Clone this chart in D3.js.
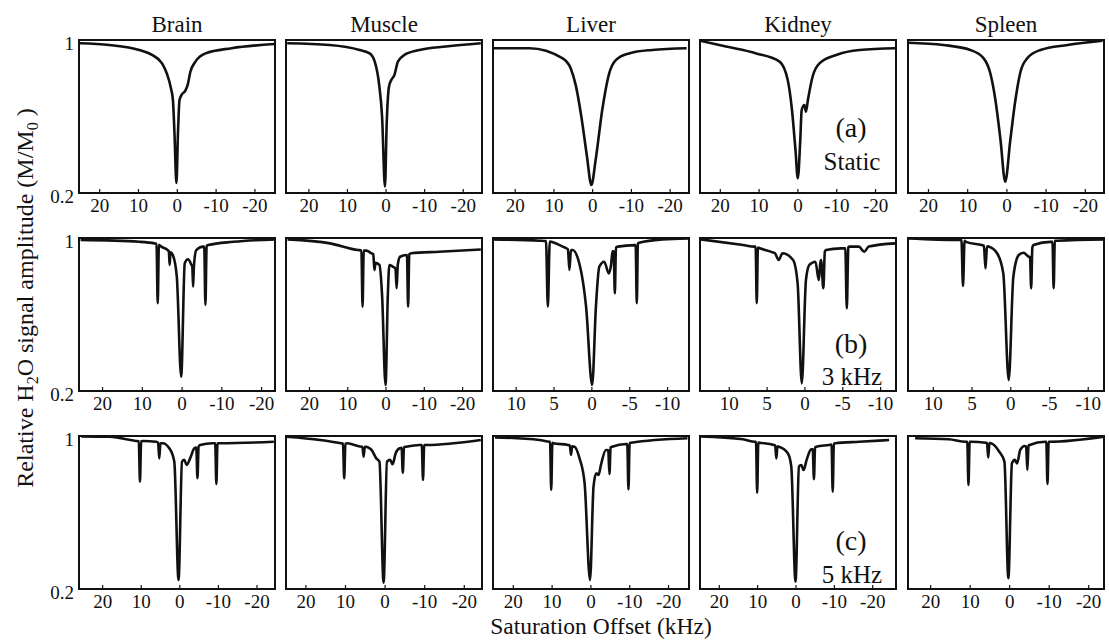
<!DOCTYPE html>
<html>
<head>
<meta charset="utf-8">
<script src="https://cdn.jsdelivr.net/npm/d3@7"></script>
<style>
  body { margin: 0; background: #fff; }
  svg text { font-family: "Liberation Serif", "Times New Roman", serif; fill: #111; }
</style>
</head>
<body>
<div id="chart"></div>
<script>
// ---- data: [offset kHz, M/M0] ----
var organs = ["Brain", "Muscle", "Liver", "Kidney", "Spleen"];
var rowTags = ["(a)", "(b)", "(c)"];
var rowNames = ["Static", "3 kHz", "5 kHz"];

var wideTicks = [20, 10, 0, -10, -20];
var narrowTicks = [10, 5, 0, -5, -10];
var yTicks = [1, 0.2];

// x domains (left edge, right edge) for each panel
var xDomains = [
  [[25.2, -25.3], [25.8, -25], [25.6, -25], [25.1, -25.4], [25.1, -24.9]],
  [[25.8, -23.5], [26, -25.2], [13, -12.9], [13.8, -12.1], [13.2, -12.1]],
  [[26, -24.8], [24.9, -24.6], [25.1, -25.4], [24.9, -26.2], [25.6, -24]]
];
var xTickSets = [
  [wideTicks, wideTicks, wideTicks, wideTicks, wideTicks],
  [wideTicks, wideTicks, narrowTicks, narrowTicks, narrowTicks],
  [wideTicks, wideTicks, wideTicks, wideTicks, wideTicks]
];

var brainStatic = [[25,0.983],[17.4,0.974],[9.7,0.948],[6.4,0.922],[3.8,0.878],[2.6,0.826],[1.5,0.747],[1.0,0.686],[0.6,0.514],[0.1,0.252],[-0.3,0.514],[-0.7,0.686],[-1.2,0.712],[-2.2,0.735],[-2.8,0.765],[-3.5,0.834],[-4.8,0.887],[-7.4,0.93],[-14.1,0.957],[-25.1,0.979]];
var muscleStatic = [[25.5,0.983],[14.5,0.974],[6.7,0.948],[4.1,0.93],[2.8,0.887],[1.7,0.774],[0.9,0.599],[0.15,0.233],[-0.3,0.564],[-0.9,0.757],[-1.5,0.791],[-2.3,0.817],[-3.2,0.887],[-4.9,0.922],[-8.8,0.948],[-15.7,0.966],[-24.7,0.983]];
var liverStatic = [[25.6,0.957],[16.2,0.957],[7.6,0.904],[5.5,0.85],[4.2,0.76],[2.8,0.6],[1.4,0.4],[0.2,0.242],[-0.9,0.373],[-2.6,0.634],[-4.4,0.826],[-6.1,0.895],[-9.5,0.93],[-15.5,0.948],[-24.4,0.957]];
var kidneyStatic = [[25.1,0.996],[18.4,0.966],[10.6,0.93],[4.6,0.887],[2.5,0.791],[1.4,0.634],[0.5,0.425],[-0.1,0.277],[-0.7,0.46],[-1.1,0.634],[-1.8,0.66],[-2.2,0.625],[-2.7,0.686],[-3.9,0.808],[-5.7,0.878],[-10,0.922],[-16,0.948],[-25.3,0.957]];
var spleenStatic = [[25,0.986],[16.1,0.974],[9.2,0.948],[5.8,0.904],[4.1,0.826],[2.8,0.686],[1.5,0.477],[0.3,0.259],[-1.0,0.477],[-2.3,0.686],[-3.6,0.834],[-5.3,0.904],[-8.7,0.948],[-15.6,0.974],[-24.5,0.996]];

var brain3k = [[25.4,0.99],[10.6,0.98],[6.8,0.972],[6.3,0.97],[6.0,0.659],[5.7,0.965],[5.1,0.955],[3.5,0.937],[3.2,0.93],[3.0,0.859],[2.8,0.925],[2.2,0.911],[1.2,0.798],[0.1,0.275],[-0.8,0.868],[-1.6,0.889],[-2.5,0.859],[-2.7,0.85],[-2.9,0.745],[-3.1,0.85],[-3.7,0.937],[-5.4,0.955],[-5.7,0.955],[-6.0,0.65],[-6.3,0.958],[-6.7,0.963],[-13,0.98],[-24,0.993]];
var muscle3k = [[25.6,0.993],[14.5,0.972],[7.2,0.937],[6.3,0.935],[6.0,0.641],[5.7,0.934],[5.0,0.934],[3.7,0.92],[3.2,0.915],[2.9,0.833],[2.6,0.87],[1.6,0.859],[0.9,0.7],[0.0,0.231],[-0.6,0.7],[-1.0,0.859],[-1.9,0.85],[-2.6,0.84],[-2.9,0.737],[-3.2,0.86],[-3.8,0.902],[-5.4,0.911],[-5.6,0.91],[-5.9,0.641],[-6.2,0.915],[-6.7,0.92],[-14,0.928],[-24.9,0.94]];
var liver3k = [[13,0.993],[6.8,0.986],[6.0,0.984],[5.75,0.641],[5.5,0.982],[5.3,0.98],[3.8,0.955],[3.1,0.94],[2.9,0.833],[2.7,0.937],[2.5,0.937],[1.6,0.868],[0.7,0.641],[-0.1,0.231],[-0.6,0.641],[-1.05,0.85],[-1.7,0.876],[-2.3,0.815],[-2.6,0.859],[-2.8,0.93],[-2.95,0.93],[-3.1,0.711],[-3.25,0.95],[-3.5,0.955],[-5.7,0.963],[-5.85,0.963],[-6.0,0.659],[-6.15,0.97],[-6.3,0.975],[-9.4,0.993],[-12.8,0.998]];
var kidney3k = [[13.7,0.993],[8.1,0.963],[6.6,0.955],[6.45,0.955],[6.3,0.659],[6.15,0.95],[5.9,0.946],[4.2,0.925],[3.9,0.92],[3.4,0.885],[2.9,0.92],[1.5,0.885],[0.9,0.763],[0.35,0.24],[-0.2,0.78],[-0.65,0.859],[-1.45,0.876],[-1.9,0.78],[-2.1,0.87],[-2.2,0.885],[-2.5,0.737],[-2.7,0.93],[-2.85,0.937],[-4.8,0.946],[-5.4,0.946],[-5.6,0.632],[-5.8,0.95],[-5.9,0.955],[-7.2,0.955],[-7.9,0.928],[-8.5,0.955],[-12,0.972]];
var spleen3k = [[13.1,0.998],[6.7,0.99],[6.3,0.99],[6.1,0.749],[5.9,0.985],[5.7,0.98],[3.7,0.963],[3.4,0.96],[3.2,0.841],[3.0,0.957],[2.8,0.955],[1.7,0.92],[0.9,0.815],[0.2,0.257],[-0.4,0.798],[-1.1,0.911],[-1.7,0.923],[-2.4,0.902],[-2.55,0.9],[-2.7,0.737],[-2.85,0.95],[-3.0,0.963],[-5.2,0.98],[-5.45,0.98],[-5.6,0.737],[-5.75,0.985],[-6.1,0.986],[-12.3,0.993]];

var brain5k = [[25.4,0.998],[18.1,0.996],[11.2,0.974],[10.5,0.972],[10.2,0.761],[9.9,0.972],[9.3,0.974],[6.0,0.97],[5.5,0.965],[5.2,0.883],[4.9,0.962],[4.3,0.962],[2.6,0.936],[1.3,0.866],[0.2,0.247],[-0.7,0.866],[-1.3,0.875],[-1.9,0.848],[-2.8,0.883],[-3.9,0.936],[-4.4,0.94],[-4.7,0.779],[-5.0,0.945],[-5.4,0.953],[-8.6,0.962],[-9.3,0.962],[-9.6,0.749],[-9.9,0.962],[-10.5,0.962],[-24.5,0.97]];
var muscle5k = [[24.9,0.996],[16.3,0.979],[11,0.962],[10.5,0.96],[10.2,0.779],[9.9,0.96],[9.4,0.962],[5.8,0.944],[5.6,0.944],[5.3,0.892],[5.0,0.944],[4.8,0.944],[3.3,0.927],[2.1,0.883],[1.3,0.866],[0.25,0.233],[-0.6,0.866],[-1.4,0.875],[-2.0,0.852],[-2.8,0.91],[-3.8,0.936],[-4.3,0.938],[-4.6,0.808],[-4.9,0.942],[-5.4,0.944],[-8.9,0.953],[-9.4,0.953],[-9.7,0.77],[-10.0,0.953],[-10.5,0.953],[-24.3,0.979]];
var liver5k = [[24.6,0.993],[13.1,0.979],[10.5,0.97],[10.4,0.97],[10.1,0.718],[9.8,0.965],[9.5,0.962],[5.8,0.953],[5.3,0.95],[5.0,0.901],[4.7,0.946],[4.1,0.944],[2.8,0.883],[1.5,0.753],[0.1,0.247],[-0.8,0.735],[-1.5,0.805],[-2.1,0.796],[-2.7,0.848],[-4.0,0.927],[-4.6,0.925],[-4.9,0.801],[-5.2,0.94],[-5.6,0.944],[-9.2,0.958],[-9.5,0.958],[-9.8,0.721],[-10.1,0.963],[-10.5,0.965],[-25,0.988]];
var kidney5k = [[24.8,0.998],[13.7,0.983],[10.6,0.97],[10.3,0.97],[10.0,0.703],[9.7,0.966],[9.4,0.965],[5.7,0.953],[5.3,0.95],[5.0,0.883],[4.7,0.946],[4.3,0.944],[2.0,0.91],[1.1,0.84],[0.0,0.238],[-0.9,0.84],[-1.5,0.848],[-2.1,0.822],[-2.9,0.875],[-4.1,0.93],[-4.5,0.93],[-4.8,0.774],[-5.1,0.94],[-5.4,0.944],[-8.8,0.953],[-9.4,0.955],[-9.7,0.709],[-10.0,0.96],[-10.4,0.962],[-16.6,0.97],[-24.4,0.979]];
var spleen5k = [[23.8,0.988],[15.3,0.983],[11.0,0.97],[10.6,0.97],[10.3,0.744],[10.0,0.97],[9.7,0.97],[5.9,0.965],[5.6,0.964],[5.3,0.888],[5.0,0.963],[4.6,0.962],[2.5,0.918],[1.2,0.866],[0.2,0.256],[-0.7,0.857],[-1.4,0.875],[-2.0,0.857],[-2.8,0.927],[-3.9,0.948],[-4.3,0.945],[-4.6,0.822],[-4.9,0.95],[-5.2,0.953],[-9.1,0.97],[-9.4,0.97],[-9.7,0.749],[-10.0,0.97],[-10.3,0.97],[-24.4,0.998]];

var curves = [
  [brainStatic, muscleStatic, liverStatic, kidneyStatic, spleenStatic],
  [brain3k, muscle3k, liver3k, kidney3k, spleen3k],
  [brain5k, muscle5k, liver5k, kidney5k, spleen5k]
];

// ---- layout ----
var W = 1109, H = 642;
var colLeft = [79, 286, 493, 700, 908],
    rowTop = [40, 238, 436],
    pw = 196, ph = 153;

var svg = d3.select("#chart").append("svg")
  .attr("width", W).attr("height", H);

var y = d3.scaleLinear().domain([0.2, 1]).range([ph, 0]);

rowTop.forEach(function(top, r) {
  colLeft.forEach(function(left, c) {
    var x = d3.scaleLinear().domain(xDomains[r][c]).range([0, pw]);
    var g = svg.append("g").attr("transform", "translate(" + left + "," + top + ")");

    var clipId = "clip" + r + c;
    g.append("clipPath").attr("id", clipId)
      .append("rect").attr("width", pw).attr("height", ph);

    var line = d3.line()
      .x(function(d) { return x(d[0]); })
      .y(function(d) { return y(d[1]); })
      .curve(d3.curveMonotoneX);

    g.append("path")
      .datum(curves[r][c])
      .attr("clip-path", "url(#" + clipId + ")")
      .attr("d", line)
      .attr("fill", "none")
      .attr("stroke", "#111")
      .attr("stroke-width", 2.6)
      .attr("stroke-linejoin", "round");

    // bottom axis, inward ticks
    var xa = g.append("g").attr("transform", "translate(0," + ph + ")")
      .call(d3.axisBottom(x).tickValues(xTickSets[r][c]).tickSize(-4).tickPadding(6)
        .tickFormat(function(d) { return String(d); }));
    xa.select(".domain").remove();
    xa.selectAll("line").attr("stroke", "#111").attr("stroke-width", 1.2);
    xa.selectAll("text").attr("font-size", 19).attr("fill", "#111");

    if (c === 0) {
      var ya = g.append("g").attr("transform", "translate(0,3)")
        .call(d3.axisLeft(y).tickValues(yTicks).tickSize(0).tickPadding(5)
          .tickFormat(function(d) { return d === 1 ? "1" : "0.2"; }));
      ya.select(".domain").remove();
      ya.selectAll("text").attr("font-size", 19).attr("fill", "#111");
    }

    g.append("rect")
      .attr("width", pw).attr("height", ph)
      .attr("fill", "none").attr("stroke", "#111").attr("stroke-width", 2);

    if (r === 0) {
      svg.append("text")
        .attr("x", left + pw / 2).attr("y", 32)
        .attr("text-anchor", "middle").attr("font-size", 23)
        .text(organs[c]);
    }
  });

  // row annotations inside the Kidney panel
  svg.append("text")
    .attr("x", 851).attr("y", top + [87, 105, 104][r] + 10)
    .attr("text-anchor", "middle").attr("font-size", 28)
    .text(rowTags[r]);
  svg.append("text")
    .attr("x", 852).attr("y", top + [122, 139, 139][r] + 8)
    .attr("text-anchor", "middle").attr("font-size", 25)
    .text(rowNames[r]);
});

// axis titles
var yl = svg.append("text")
  .attr("transform", "translate(33,298) rotate(-90)")
  .attr("text-anchor", "middle").attr("font-size", 24);
yl.append("tspan").text("Relative H");
yl.append("tspan").attr("font-size", 16).attr("dy", 5).text("2");
yl.append("tspan").attr("dy", -5).text("O signal amplitude (M/M");
yl.append("tspan").attr("font-size", 16).attr("dy", 5).text("0");
yl.append("tspan").attr("dy", -5).text(" )");

svg.append("text")
  .attr("x", 601).attr("y", 634)
  .attr("text-anchor", "middle").attr("font-size", 23.5)
  .text("Saturation Offset (kHz)");
</script>
</body>
</html>
